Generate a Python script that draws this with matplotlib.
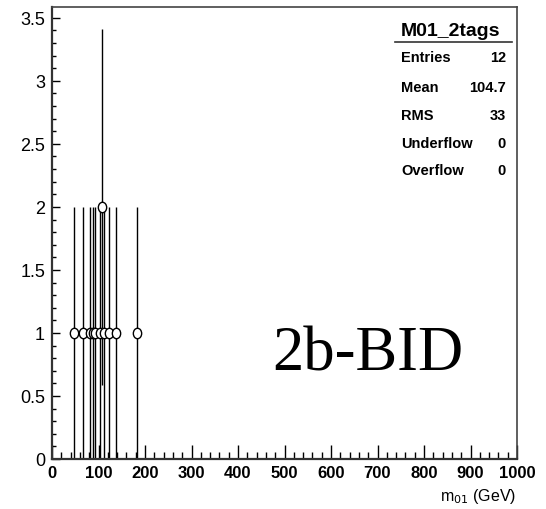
import matplotlib
matplotlib.use("Agg")
import matplotlib.pyplot as plt
from matplotlib.lines import Line2D
from matplotlib.path import Path
from matplotlib.transforms import Affine2D

# histogram M01_2tags (bin width 5 GeV), only non-empty bins
bin_centers = [47.5, 67.5, 82.5, 87.5, 92.5, 102.5, 107.5, 112.5, 122.5, 137.5, 182.5]
counts = [1, 1, 1, 1, 1, 1, 2, 1, 1, 1, 1]
errors = [1, 1, 1, 1, 1, 1, 1.414, 1, 1, 1, 1]

stats_title = "M01_2tags"
stats_names = ["Entries", "Mean", "RMS", "Underflow", "Overflow"]
stats_values = ["12", "104.7", "33", "0", "0"]

W, H = 546, 510
sans = ["Liberation Sans", "DejaVu Sans"]

fig = plt.figure(figsize=(W / 100, H / 100), dpi=100)
ax = fig.add_axes([52 / W, 1 - 460 / H, (517 - 52) / W, (460 - 7.5) / H])

# slightly tall open ellipse like the root marker
ellipse = Path.unit_circle().transformed(Affine2D().scale(0.8, 1.0))

ax.errorbar(bin_centers, counts, yerr=errors, fmt="none", ecolor="black",
            elinewidth=1.0, capsize=0)
ax.plot(bin_centers, counts, ls="none", marker=ellipse, ms=7.5,
        mfc="white", mec="black", mew=1.0)

ax.set_xlim(0, 1000)
ax.set_ylim(0, 3.59)
ax.set_xticks(range(0, 1001, 100))
ax.set_xticks(range(0, 1001, 20), minor=True)
ax.set_yticks([0, 0.5, 1, 1.5, 2, 2.5, 3, 3.5])
ax.set_yticklabels(["0", "0.5", "1", "1.5", "2", "2.5", "3", "3.5"])
ax.set_yticks([i / 10 for i in range(0, 36)], minor=True)

ax.tick_params(axis="x", which="major", direction="in", length=10, width=1, pad=4)
ax.tick_params(axis="x", which="minor", direction="in", length=5, width=1)
ax.tick_params(axis="y", which="major", direction="in", length=6, width=1, pad=5)
ax.tick_params(axis="y", which="minor", direction="in", length=3, width=1)

for lab in ax.get_xticklabels():
    lab.set_family(sans)
    lab.set_fontsize(12)
    lab.set_fontweight("bold")
for lab in ax.get_yticklabels():
    lab.set_family(sans)
    lab.set_fontsize(13)

for side in ["left", "bottom"]:
    ax.spines[side].set_linewidth(1.6)
    ax.spines[side].set_color("#333333")
for side in ["top", "right"]:
    ax.spines[side].set_linewidth(1.2)
    ax.spines[side].set_color("#444444")

# x axis title
fig.text(516 / W, 1 - 497 / H, "m$_{01}$ (GeV)", ha="right", va="center",
         fontsize=11.5, family=sans)

# stats box
fig.text(450 / W, 1 - 31 / H, stats_title, ha="center", va="center",
         fontsize=14, fontweight="bold", family=sans)
fig.add_artist(Line2D([395 / W, 512 / W], [1 - 43 / H, 1 - 43 / H],
                      color="#333333", lw=1.2))
ys = [58, 88, 116, 144, 171]
for name, val, y in zip(stats_names, stats_values, ys):
    fig.text(401 / W, 1 - y / H, name, ha="left", va="center",
             fontsize=10.5, fontweight="bold", family=sans)
    fig.text(506 / W, 1 - y / H, val, ha="right", va="center",
             fontsize=10.5, fontweight="bold", family=sans)

# label
fig.text(272 / W, 1 - 371 / H, "2b-BID", ha="left", va="baseline",
         fontsize=45, family=["Liberation Serif", "DejaVu Serif"])

fig.savefig("out.png", dpi=100)
